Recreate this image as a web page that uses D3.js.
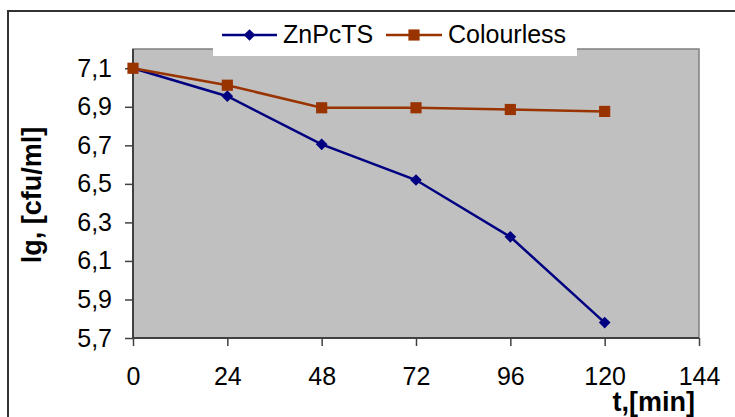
<!DOCTYPE html>
<html><head><meta charset="utf-8">
<script src="https://cdn.jsdelivr.net/npm/d3@7"></script>
<style>body{margin:0;background:#fff;}svg{display:block;font-family:"Liberation Sans",Arial,sans-serif;}</style>
</head><body>
<svg id="chart" width="735" height="417"></svg>
<script>
const times = [0, 24, 48, 72, 96, 120];
const znpcts = [7.10, 6.955, 6.705, 6.52, 6.225, 5.78];
const colourless = [7.10, 7.012, 6.895, 6.895, 6.886, 6.876];
const seriesNames = ["ZnPcTS", "Colourless"];
const xTicks = [0, 24, 48, 72, 96, 120, 144];
const yTicks = [5.7, 5.9, 6.1, 6.3, 6.5, 6.7, 6.9, 7.1];
const xTitle = "t,[min]";
const yTitle = "lg, [cfu/ml]";

const svg = d3.select("#chart");
const L = 133, R = 699, T = 49, B = 338;
const x = d3.scaleLinear().domain([0, 144]).range([L, R]);
const y = d3.scaleLinear().domain([5.7, 7.2]).range([B, T]);

// outer frame
svg.append("rect").attr("x", 8).attr("y", 11).attr("width", 800).attr("height", 500)
  .attr("fill", "#fff").attr("stroke", "#333").attr("stroke-width", 2);

// plot area
svg.append("rect").attr("x", L).attr("y", T).attr("width", R - L).attr("height", B - T)
  .attr("fill", "#c0c0c0").attr("stroke", "#808080").attr("stroke-width", 1.5);

// axes
const fmt = v => d3.format(".1f")(v).replace(".", ",");
const yAxis = svg.append("g").attr("transform", `translate(${L},0)`)
  .call(d3.axisLeft(y).tickValues(yTicks).tickSize(8).tickPadding(13).tickFormat(fmt));
const xAxis = svg.append("g").attr("transform", `translate(0,${B})`)
  .call(d3.axisBottom(x).tickValues(xTicks).tickSize(8).tickPadding(21).tickFormat(d3.format("d")));
[yAxis, xAxis].forEach(a => {
  a.select(".domain").attr("stroke", "#404040").attr("stroke-width", 2);
  a.selectAll(".tick line").attr("stroke", "#404040").attr("stroke-width", 1.5);
  a.selectAll(".tick text").attr("fill", "#000").style("font-size", "25px")
    .style("font-family", '"Liberation Sans",Arial,sans-serif');
});
xAxis.select(".domain").attr("d", `M${L},0H${R}`);
yAxis.select(".domain").attr("d", `M0,${B}V${T}`);

// titles
svg.append("text").attr("x", 695).attr("y", 411).attr("text-anchor", "end")
  .style("font-size", "27px").style("font-weight", "bold").text(xTitle);
svg.append("text").attr("transform", "translate(41,195) rotate(-90)").attr("text-anchor", "middle")
  .style("font-size", "27px").style("font-weight", "bold").text(yTitle);

// series
const colors = ["#000080", "#993300"];
const series = [znpcts, colourless];
const line = d3.line().x(d => x(d[0])).y(d => y(d[1]));
const diamond = d3.symbol().type(d3.symbolSquare).size(68);
const square = d3.symbol().type(d3.symbolSquare).size(125);

series.forEach((vals, i) => {
  const pts = times.map((t, j) => [t, vals[j]]);
  svg.append("path").attr("d", line(pts)).attr("fill", "none")
    .attr("stroke", colors[i]).attr("stroke-width", 2.5);
});
series.forEach((vals, i) => {
  const pts = times.map((t, j) => [t, vals[j]]);
  svg.selectAll(null).data(pts).enter().append("path")
    .attr("d", i === 0 ? diamond() : square())
    .attr("transform", d => `translate(${x(d[0])},${y(d[1])})` + (i === 0 ? " rotate(45)" : ""))
    .attr("fill", colors[i]);
});

// legend
const lg = svg.append("g");
lg.append("rect").attr("x", 213).attr("y", 14).attr("width", 364).attr("height", 42).attr("fill", "#fff");
const legendItems = [
  {x1: 222, x2: 277, tx: 283},
  {x1: 386, x2: 442, tx: 448}
];
legendItems.forEach((it, i) => {
  lg.append("line").attr("x1", it.x1).attr("x2", it.x2).attr("y1", 35).attr("y2", 35)
    .attr("stroke", colors[i]).attr("stroke-width", 2.5);
  lg.append("path").attr("d", i === 0 ? diamond() : square())
    .attr("transform", `translate(${(it.x1 + it.x2) / 2},35)` + (i === 0 ? " rotate(45)" : ""))
    .attr("fill", colors[i]);
  lg.append("text").attr("x", it.tx).attr("y", 43).style("font-size", "25px").text(seriesNames[i]);
});
</script>
</body></html>
